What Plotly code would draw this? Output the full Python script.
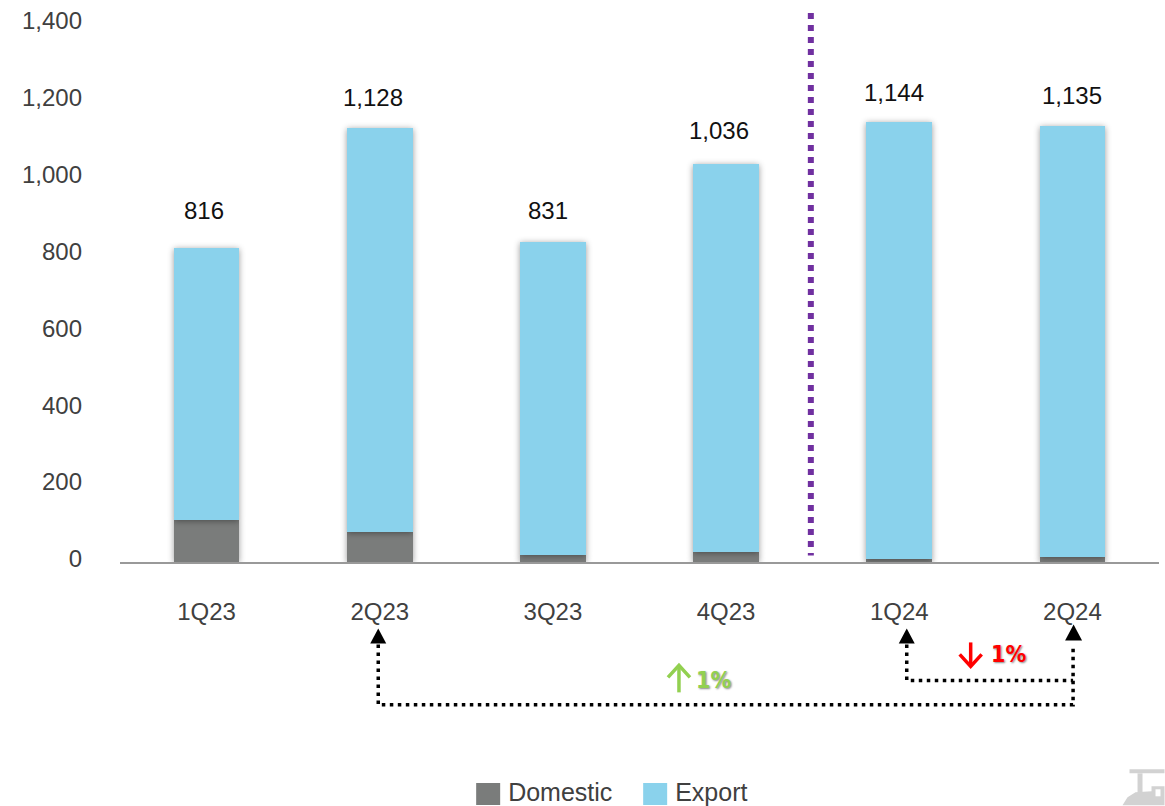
import plotly.graph_objects as go

W, H = 1165, 806
ML, MR, MT, MB = 119.5, 5.5, 14, 243.5

categories = ["1Q23", "2Q23", "3Q23", "4Q23", "1Q24", "2Q24"]
domestic = [110, 77, 17, 27, 9, 12]
export = [706, 1051, 814, 1009, 1135, 1123]
total_labels = ["816", "1,128", "831", "1,036", "1,144", "1,135"]
totals = [816, 1128, 831, 1036, 1144, 1135]
y_ticks = [0, 200, 400, 600, 800, 1000, 1200, 1400]
y_tick_labels = ["0", "200", "400", "600", "800", "1,000", "1,200", "1,400"]
label_dx = [-3, -7, -5, -7, -5, 0]
label_dy = [38, 31, 32, 33, 30, 30]

GREY, BLUE = "#7A7C7B", "#8AD2EC"
FONT = "Liberation Sans"
PCT_FONT = "DejaVu Sans Condensed"
ICON = "#D2D2D2"


def px(x):
    return (x - ML) / (W - ML - MR)


def py(y):
    return 1 - (y - MT) / (H - MT - MB)


def path(points, close=False):
    s = "M" + " L".join(f"{px(x):.5f},{py(y):.5f}" for x, y in points)
    return s + (" Z" if close else "")


def line_shape(points, color="#000", width=3.5, dash="3.5px,4.5px"):
    return dict(type="path", xref="paper", yref="paper", path=path(points),
                line=dict(color=color, width=width, dash=dash), layer="above")


def poly(points, color):
    return dict(type="path", xref="paper", yref="paper", path=path(points, True),
                fillcolor=color, line=dict(width=0), layer="above")


def tri(cx, top, half=8, h=15):
    return poly([(cx, top), (cx + half, top + h), (cx - half, top + h)], "#000")


def arrow(cx, top, bottom, color, head_at_top=True):
    tip, back = (top, top + 12) if head_at_top else (bottom, bottom - 12)
    return [
        line_shape([(cx, top + 1), (cx, bottom - 1)], color, 3.5, "solid"),
        line_shape([(cx - 11, back), (cx, tip), (cx + 11, back)], color, 3.5, "solid"),
    ]


fig = go.Figure()
fig.add_bar(x=categories, y=domestic, name="Domestic", marker=dict(color=GREY, line_width=0), width=0.38)
fig.add_bar(x=categories, y=export, name="Export", marker=dict(color=BLUE, line_width=0), width=0.38)

annotations = [
    dict(x=c, y=t, text=l, showarrow=False, xref="x", yref="y", xshift=dx, yshift=dy,
         font=dict(family=FONT, size=24, color="#111"))
    for c, t, l, dx, dy in zip(categories, totals, total_labels, label_dx, label_dy)
]
annotations += [
    dict(x=px(714), y=py(681), xref="paper", yref="paper", xanchor="center", yanchor="middle",
         text="<b>1%</b>", showarrow=False,
         font=dict(family=PCT_FONT, size=23, color="#92D050", shadow="1px 1px 2px #888")),
    dict(x=px(1009), y=py(655), xref="paper", yref="paper", xanchor="center", yanchor="middle",
         text="<b>1%</b>", showarrow=False,
         font=dict(family=PCT_FONT, size=23, color="#FF0000", shadow="1px 1px 2px #888")),
]

shapes = [
    dict(type="line", xref="paper", yref="paper", x0=px(811), x1=px(811), y0=py(13), y1=py(556),
         line=dict(color="#7030A0", width=6, dash="6px,6px")),
    line_shape([(378, 645), (378, 705.5), (1073.5, 705.5), (1073.5, 645)]),
    line_shape([(907, 645), (907, 681), (1073.5, 681)]),
    tri(907, 629), tri(378, 629), tri(1074, 625, 8.5, 16),
    # partial icon in the bottom right corner
    poly([(1130, 770), (1165, 770), (1165, 774), (1130, 774)], ICON),
    poly([(1138, 774), (1143, 774), (1143, 794), (1138, 794)], ICON),
    poly([(1123, 806), (1128, 798), (1136, 793), (1152, 792), (1152, 787), (1165, 787), (1165, 806)], ICON),
    poly([(1156, 790), (1161, 790), (1161, 797), (1156, 797)], "#FFFFFF"),
] + arrow(679, 666, 694, "#92D050") + arrow(971, 642, 667, "#FF0000", head_at_top=False)

fig.update_layout(
    width=W, height=H, barmode="stack", plot_bgcolor="white", paper_bgcolor="white",
    margin=dict(l=ML, r=MR, t=MT, b=MB, autoexpand=False), bargap=0.62,
    xaxis=dict(type="category", showgrid=False, showline=True, linecolor="#999", linewidth=1.5,
               ticks="", ticklabelstandoff=27, tickfont=dict(family=FONT, size=24, color="#404040")),
    yaxis=dict(range=[0, 1425], tickvals=y_ticks, ticktext=y_tick_labels, showgrid=False,
               zeroline=False, showline=False, ticks="", ticklabelstandoff=37, ticklabelshift=-3,
               tickfont=dict(family=FONT, size=24, color="#404040")),
    legend=dict(orientation="h", x=px(468), y=py(792), xanchor="left", yanchor="middle",
                entrywidth=122, entrywidthmode="pixels", traceorder="normal",
                bgcolor="rgba(0,0,0,0)", font=dict(family=FONT, size=25, color="#404040")),
    annotations=annotations, shapes=shapes,
)

post = """
document.body.style.margin = '0';
document.querySelectorAll('.barlayer .point path').forEach(function (p) {
  p.style.filter = 'drop-shadow(0px 1px 3px rgba(0,0,0,0.4))';
});
document.querySelectorAll('.legend .legendpoints path').forEach(function (p) {
  p.setAttribute('d', 'M12,14H-12V-8H12Z');
});
"""
fig.write_html("out.html", post_script=post, config={"displayModeBar": False})
